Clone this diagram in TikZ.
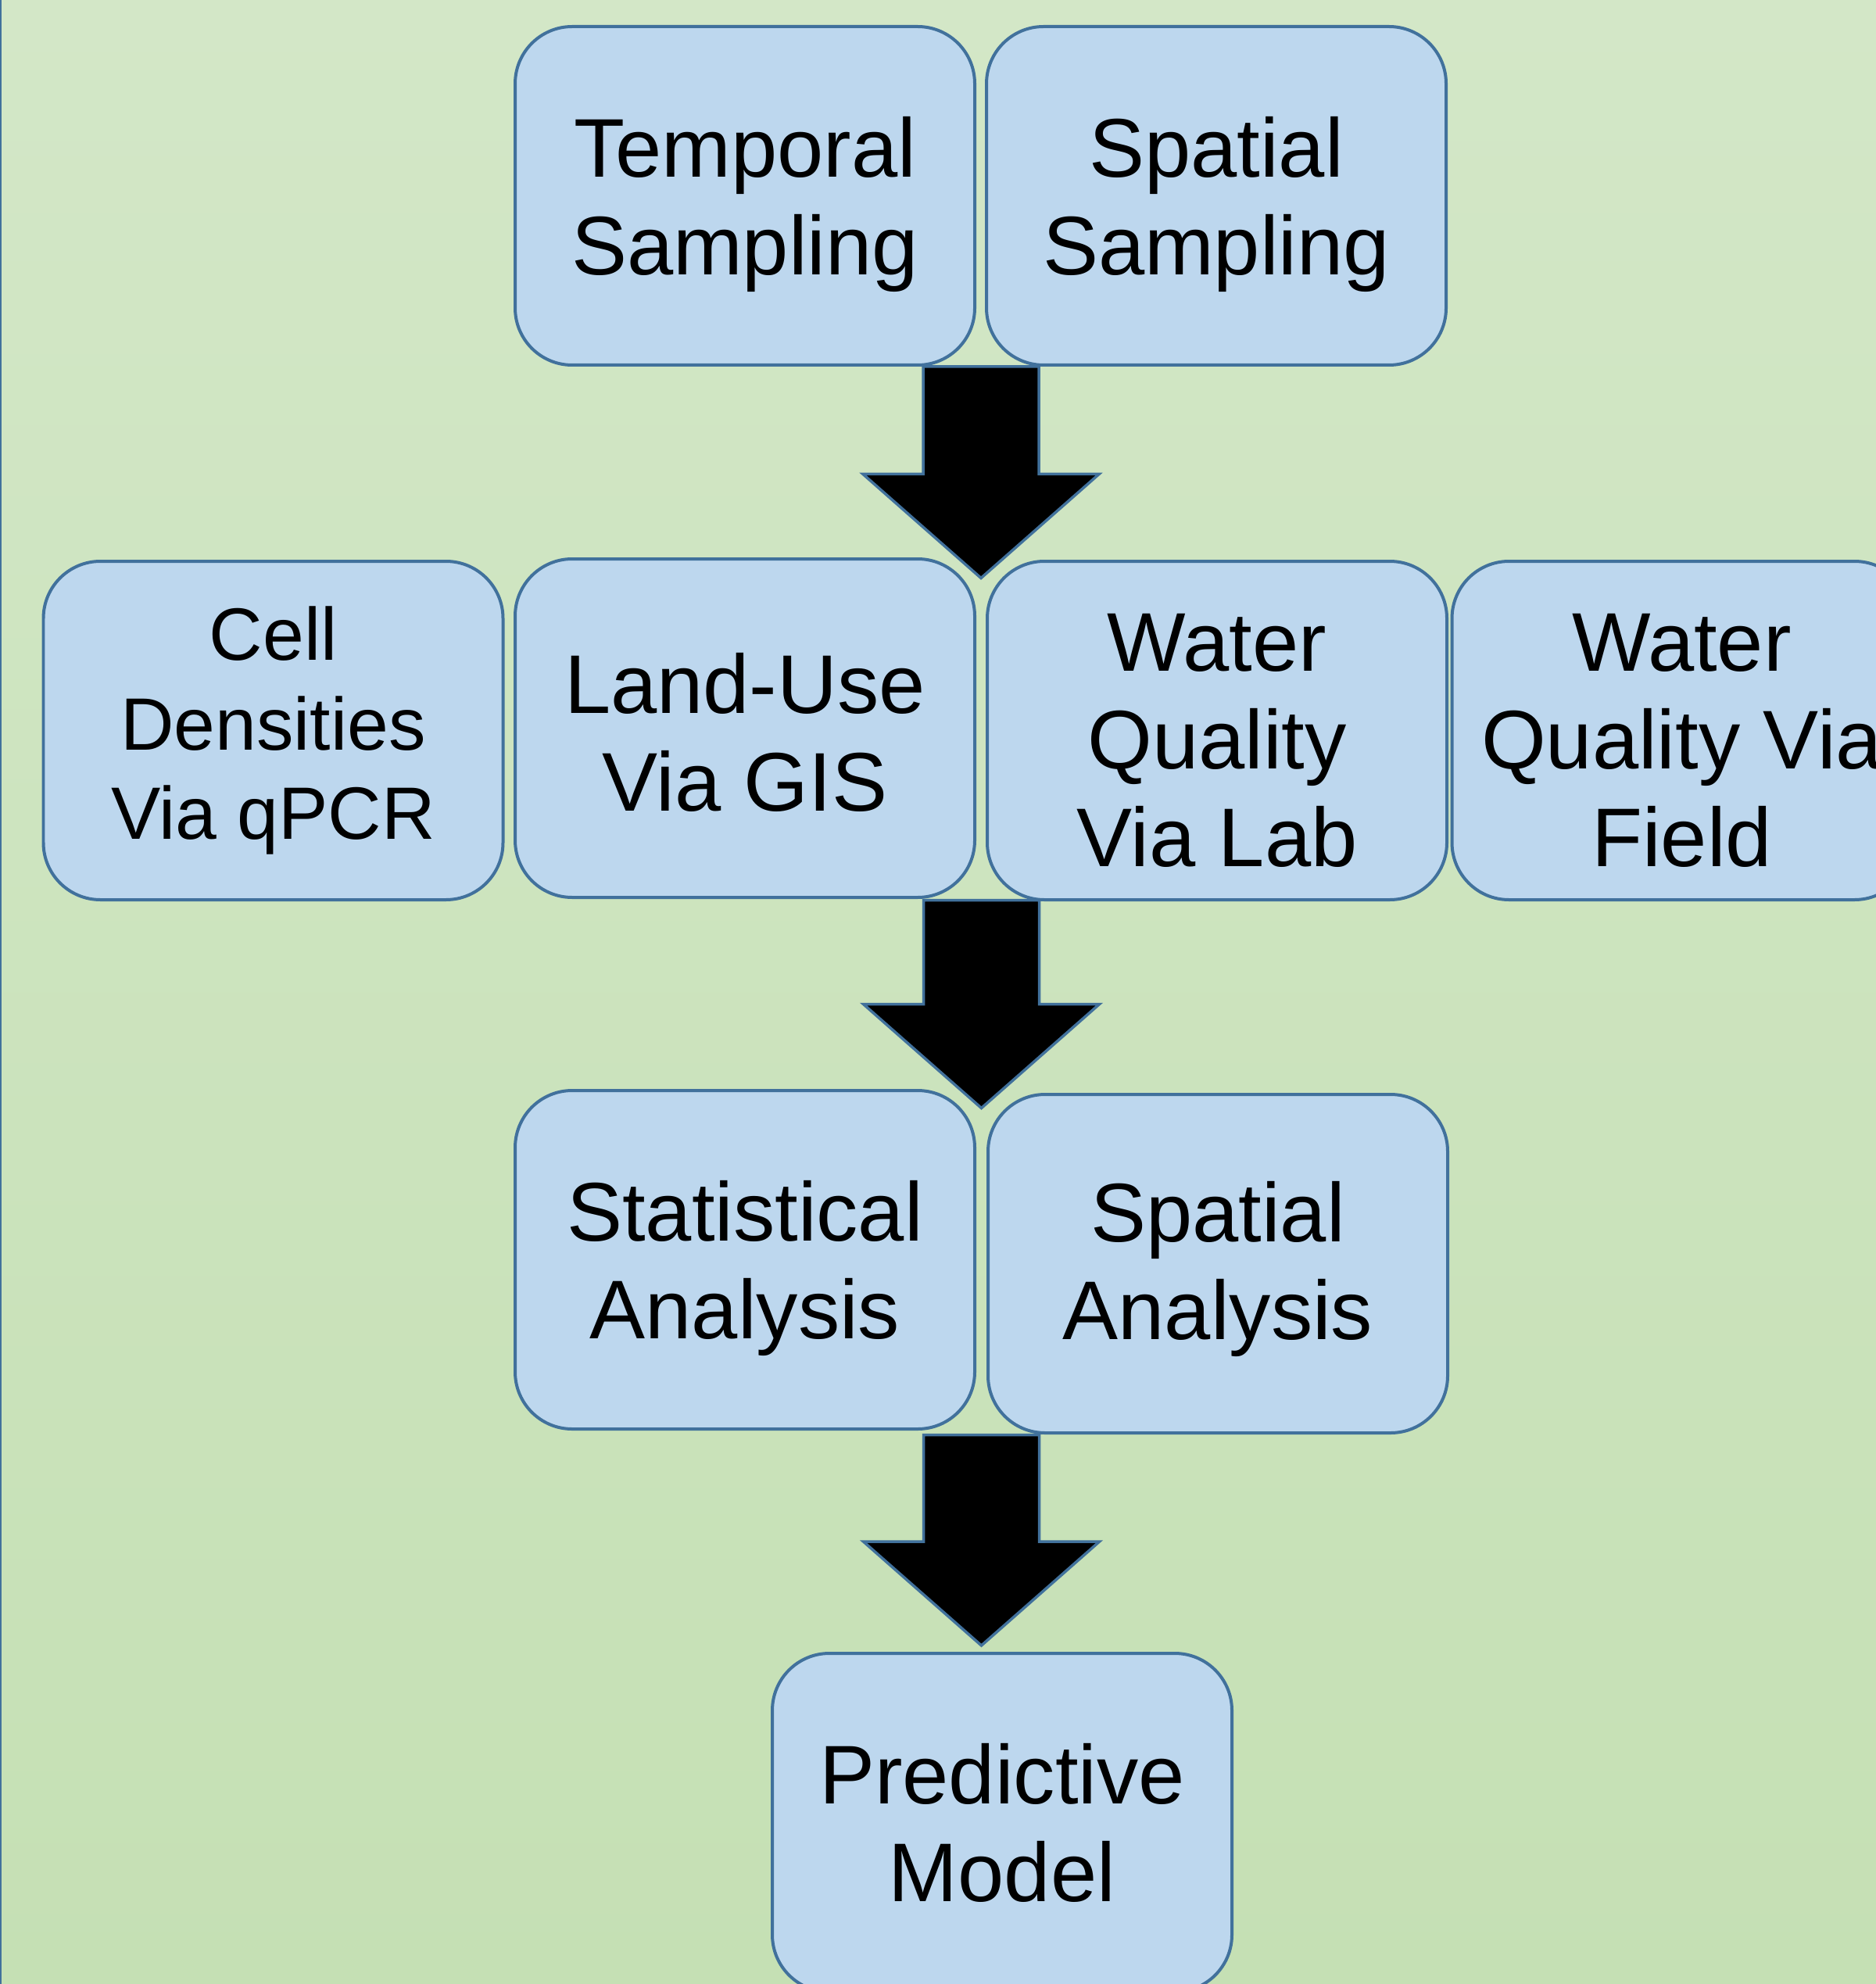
\documentclass[tikz,border=0pt]{standalone}
\usepackage{fontspec}
\setmainfont{Liberation Sans}
\usepackage{tikz}
\usetikzlibrary{calc}

\definecolor{boxfill}{HTML}{BDD7EE}
\definecolor{boxline}{HTML}{41719C}
\definecolor{bgtop}{HTML}{D3E7C7}
\definecolor{bgbottom}{HTML}{C5E0B4}

% tall first line, pushes the text of a box a little down
\newcommand{\lowstrut}[1][28pt]{\rule{0pt}{#1}}

% block arrow from the gap under a row (#1) down to its tip (#2)
\newcommand{\blockarrow}[2]{%
	\draw[block arrow] ($(#2 |- #1)+(-0.74,0)$) -- ++(1.48,0)
		-- ($(#2)+(0.74,1.33)$) -- ++(0.77,0) -- (#2)
		-- ($(#2)+(-1.51,1.33)$) -- ++(0.77,0) -- cycle;}

\begin{document}
\begin{tikzpicture}
			[line join=miter,
			%Styles
			step box/.style={rounded corners=0.73cm,fill=boxfill,draw=boxline,line width=0.04cm,
				minimum width=5.88cm,minimum height=4.33cm,inner sep=0pt,align=center,
				font=\fontsize{30.3pt}{35.6pt}\selectfont},
			small text/.style={font=\fontsize{27pt}{32.7pt}\selectfont},
			block arrow/.style={fill=black,draw=boxline,line width=0.035cm}
			]

			%Background
			\useasboundingbox (0,0) rectangle (24,-25.38);
			\clip (0,0) rectangle (24,-25.38);
			\shade[top color=bgtop,bottom color=bgbottom] (0,0) rectangle (24,-25.38);
			\draw[boxline, line width=0.025cm] (0.0125,0) -- (0.0125,-25.38);

			%The graphic
			\node[step box] (TS) at (9.53, -2.505) {\lowstrut Temporal\\Sampling};
			\node[step box] (SS) at (15.56, -2.505) {\lowstrut Spatial\\Sampling};

			\node[step box, small text] (CD) at (3.495, -9.345) {Cell\\Densities\\Via qPCR};
			\node[step box] (LU) at (9.53, -9.315) {\lowstrut[25pt]Land-Use\\Via GIS};
			\node[step box] (WL) at (15.57, -9.345) {\lowstrut Water\\Quality\\Via Lab};
			\node[step box] (WF) at (21.515, -9.345) {\lowstrut Water\\Quality Via\\Field};

			\node[step box] (SA) at (9.53, -16.115) {\lowstrut Statistical\\Analysis};
			\node[step box] (SpA) at (15.58, -16.165) {\lowstrut[26pt]Spatial\\Analysis};

			\node[step box] (PM) at (12.82, -23.315) {Predictive\\Model};

			%Arrows
			\coordinate (top1) at ($(TS.south east)!0.5!(SS.south west)$);
			\coordinate (tip1) at ($(LU.north east)!0.5!(WL.north west)+(0,-0.25)$);
			\coordinate (top2) at ($(LU.south east)!0.5!(WL.south west)$);
			\coordinate (tip2) at ($(SA.north east)!0.5!(SpA.north west)+(0,-0.22)$);
			\coordinate (top3) at ($(SA.south east)!0.5!(SpA.south west)+(0,-0.03)$);
			\coordinate (tip3) at ($(top3 |- PM.north)+(0,0.08)$);

			\blockarrow{top1}{tip1}
			\blockarrow{top2}{tip2}
			\blockarrow{top3}{tip3}
		\end{tikzpicture}
\end{document}
